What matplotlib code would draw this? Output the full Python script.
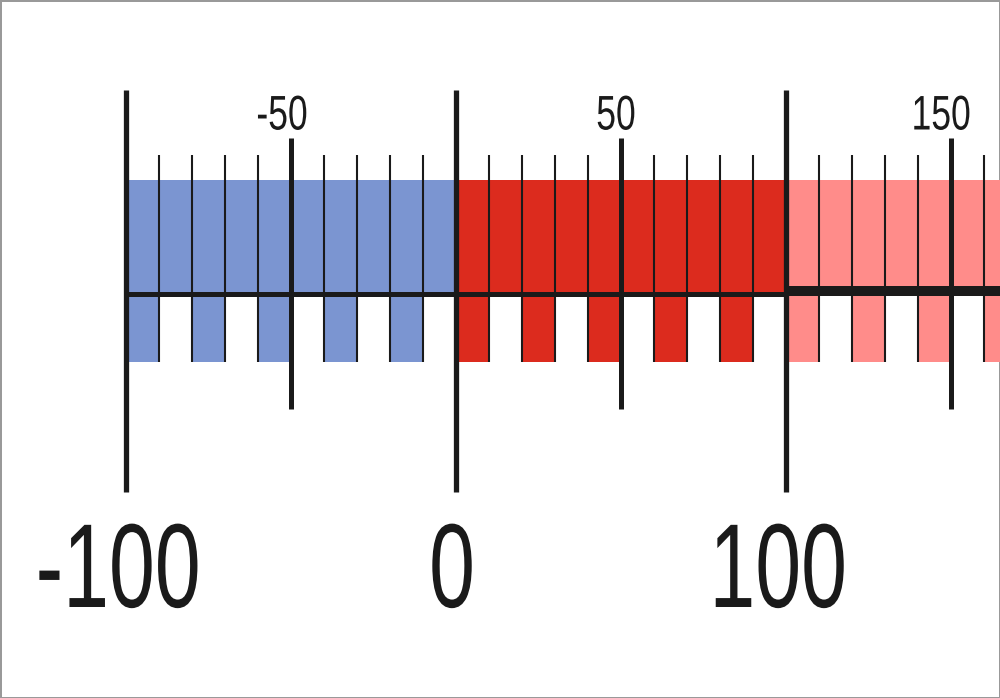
import numpy as np
import matplotlib
matplotlib.use("Agg")
import matplotlib.pyplot as plt
from matplotlib import patheffects
from matplotlib.transforms import Affine2D

# number line values
big_ticks = [-100, 0, 100]
half_ticks = [-50, 50, 150]
minor_ticks = [v for v in range(-90, 170, 10) if v % 50 != 0]
segments = [(-100, 0), (0, 100), (100, 170)]
seg_colors = ['#7B95D1', '#DC2B1E', '#FF8C8A']
bar_starts = list(range(-100, 170, 20))
bar_width = 10

ink = '#1A1A1A'
plt.rcParams['font.family'] = ['Liberation Sans', 'DejaVu Sans']


class Squeeze(patheffects.AbstractPathEffect):
    # narrow the glyphs horizontally (condensed look), keeping them centred
    def __init__(self, sx):
        super().__init__()
        self.sx = sx

    def draw_path(self, renderer, gc, tpath, affine, rgbFace=None):
        ext = tpath.get_extents()
        c = (ext.x0 + ext.x1) / 2
        t = Affine2D().translate(-c, 0).scale(self.sx, 1).translate(c, 0) + affine
        renderer.draw_path(gc, tpath, t, rgbFace)


fig = plt.figure(figsize=(10, 6.98), dpi=100)
ax = fig.add_axes([0, 0, 1, 1])
px = 3.3  # pixels per unit
ax.set_xlim(-100 - 126 / px, -100 + (1000 - 126) / px)
ax.set_ylim(698, 0)
ax.axis('off')

# coloured blocks above the line, alternating bars below
for (a, b), c in zip(segments, seg_colors):
    ax.fill_between([a, b], 180, 295, color=c, lw=0, zorder=1)
    for s in bar_starts:
        if a <= s < b:
            ax.fill_between([s, s + bar_width], 294, 362, color=c, lw=0, zorder=1)

# horizontal line: thin up to 100, thick after
ax.plot([-100, 100], [293.5, 293.5], color=ink, lw=3.6, solid_capstyle='butt', zorder=3)
ax.plot([100, 170], [291, 291], color=ink, lw=7.2, solid_capstyle='butt', zorder=3)

ax.vlines(minor_ticks, 155, 362, color=ink, lw=1.5, zorder=4)
ax.vlines(half_ticks, 138, 409, color=ink, lw=3.6, zorder=4)
ax.vlines(big_ticks, 90, 492, color=ink, lw=3.8, zorder=4)

small_shift = [-9, -5, -10]
big_shift = [-8, -4, -8.5]
for v, d in zip(half_ticks, small_shift):
    ax.text(v + d / px, 129.5, str(v), ha='center', va='baseline', fontsize=35,
            color=ink, path_effects=[Squeeze(0.73)])
for v, d in zip(big_ticks, big_shift):
    ax.text(v + d / px, 607, str(v), ha='center', va='baseline', fontsize=86,
            color=ink, path_effects=[Squeeze(0.69)])

fig.patch.set_edgecolor('#999999')
fig.patch.set_linewidth(2)
fig.savefig('out.png', dpi=100)
